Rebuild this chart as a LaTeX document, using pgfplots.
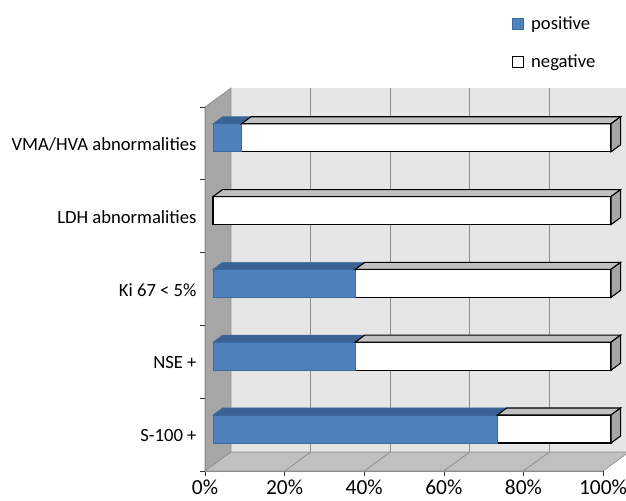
\documentclass[border=0pt]{standalone}
\usepackage{fontspec}
\setmainfont{Carlito}
\usepackage{pgfplots}
\pgfplotsset{compat=1.18}
\usepackage{pgfplotstable}

\definecolor{posblue}{HTML}{4F81BD}
\definecolor{postop}{HTML}{3A6294}
\definecolor{posedge}{HTML}{3B6A9E}
\definecolor{wallback}{HTML}{E6E6E6}
\definecolor{wallleft}{HTML}{A6A6A6}
\definecolor{floorc}{HTML}{C0C0C0}
\definecolor{gridc}{HTML}{8C8C8C}
\definecolor{negtop}{HTML}{C0C0C0}
\definecolor{negcap}{HTML}{A6A6A6}

\pgfplotsset{sqlegend/.style={legend image code/.code={\draw[##1] (0bp,-5.5bp) rectangle (11bp,5.5bp);}}}

\pgfplotstableread{
y pos neg
0.5 71.43 28.57
1.5 35.71 64.29
2.5 35.71 64.29
3.5 0 100
4.5 7.14 92.86
}\bardata

\newcommand{\chartfont}{\fontsize{18.7}{22}\selectfont}
\newcommand{\tickfont}{\fontsize{21.5}{24}\selectfont}

\begin{document}
\begin{tikzpicture}
\path[use as bounding box] (0bp,0bp) rectangle (626bp,501bp);
\clip (0bp,0bp) rectangle (626bp,501bp);

% ---- frame: walls, floor, grid, ticks, labels
\begin{axis}[
  at={(205bp,30bp)}, anchor=south west,
  scale only axis, width=398bp, height=364bp,
  xmin=0, xmax=100, ymin=0, ymax=5,
  clip=false, axis on top,
  axis x line*=bottom, axis y line*=left,
  axis line style={draw=gridc, line width=0.8pt},
  tick align=outside, major tick length=5bp,
  tick style={draw=black!80, line width=0.6pt},
  xtick={0,20,40,60,80,100},
  xticklabels={0\%,20\%,40\%,60\%,80\%,100\%},
  xticklabel style={font=\tickfont, inner sep=1bp, yshift=-3bp},
  ytick={0,1,2,3,4,5},
  yticklabels={S-100 +, NSE +, Ki 67 < 5\%, LDH abnormalities, VMA/HVA abnormalities, {}},
  yticklabel style={yshift=35.4bp, font=\chartfont},
  font=\chartfont,
]
% back wall
\addplot[fill=wallback, draw=none, forget plot] coordinates {(6.53,0.261) (106.53,0.261) (106.53,5.261) (6.53,5.261)} -- cycle;
% left wall
\addplot[fill=wallleft, draw=gridc, line width=0.6pt, forget plot] coordinates {(0,0) (6.53,0.261) (6.53,5.261) (0,5)} -- cycle;
% floor
\addplot[fill=floorc, draw=gridc, line width=0.6pt, forget plot] coordinates {(0,0) (100,0) (106.53,0.261) (6.53,0.261)} -- cycle;
% wall grid lines
\addplot[gridc, line width=0.8pt, forget plot] coordinates {(26.53,0.261) (26.53,5.261)};
\addplot[gridc, line width=0.8pt, forget plot] coordinates {(46.53,0.261) (46.53,5.261)};
\addplot[gridc, line width=0.8pt, forget plot] coordinates {(66.53,0.261) (66.53,5.261)};
\addplot[gridc, line width=0.8pt, forget plot] coordinates {(86.53,0.261) (86.53,5.261)};
% floor grid lines
\addplot[gridc, line width=0.8pt, forget plot] coordinates {(20,0) (26.53,0.261)};
\addplot[gridc, line width=0.8pt, forget plot] coordinates {(40,0) (46.53,0.261)};
\addplot[gridc, line width=0.8pt, forget plot] coordinates {(60,0) (66.53,0.261)};
\addplot[gridc, line width=0.8pt, forget plot] coordinates {(80,0) (86.53,0.261)};
\end{axis}

% ---- bars (front faces)
\begin{axis}[
  at={(213bp,35.6bp)}, anchor=south west,
  scale only axis, width=398bp, height=364bp,
  xmin=0, xmax=100, ymin=0, ymax=5,
  clip=false, hide axis,
  xbar stacked, bar width=28bp,
  font=\chartfont,
  legend style={at={(0.751,1.2387)}, anchor=north west, draw=none, fill=none,
    inner sep=0pt, row sep=20bp, column sep=5bp, font=\chartfont,
    nodes={inner sep=2bp}},
  legend cell align=left,
]
\addplot[fill=posblue, draw=posedge, line width=0.6pt, sqlegend]
  table[x=pos, y=y] {\bardata};
\addlegendentry{positive}
\addplot[fill=white, draw=black, line width=1.1pt, sqlegend]
  table[x=neg, y=y] {\bardata};
\addlegendentry{negative}
\end{axis}

% ---- bars (top faces and end caps)
\begin{axis}[
  at={(213bp,35.6bp)}, anchor=south west,
  scale only axis, width=398bp, height=364bp,
  xmin=0, xmax=100, ymin=0, ymax=5,
  clip=false, hide axis,
]
% S-100 +
\addplot[fill=postop, draw=posedge, line width=0.6pt] coordinates {(0,0.6923) (71.43,0.6923) (73.83,0.7885) (2.4,0.7885)} -- cycle;
\addplot[fill=negtop, draw=black, line width=1.1pt] coordinates {(71.43,0.6923) (100,0.6923) (102.4,0.7885) (73.83,0.7885)} -- cycle;
\addplot[fill=negcap, draw=black, line width=1.1pt] coordinates {(100,0.3077) (100,0.6923) (102.4,0.7885) (102.4,0.4039)} -- cycle;
% NSE +
\addplot[fill=postop, draw=posedge, line width=0.6pt] coordinates {(0,1.6923) (35.71,1.6923) (38.11,1.7885) (2.4,1.7885)} -- cycle;
\addplot[fill=negtop, draw=black, line width=1.1pt] coordinates {(35.71,1.6923) (100,1.6923) (102.4,1.7885) (38.11,1.7885)} -- cycle;
\addplot[fill=negcap, draw=black, line width=1.1pt] coordinates {(100,1.3077) (100,1.6923) (102.4,1.7885) (102.4,1.4039)} -- cycle;
% Ki 67 < 5%
\addplot[fill=postop, draw=posedge, line width=0.6pt] coordinates {(0,2.6923) (35.71,2.6923) (38.11,2.7885) (2.4,2.7885)} -- cycle;
\addplot[fill=negtop, draw=black, line width=1.1pt] coordinates {(35.71,2.6923) (100,2.6923) (102.4,2.7885) (38.11,2.7885)} -- cycle;
\addplot[fill=negcap, draw=black, line width=1.1pt] coordinates {(100,2.3077) (100,2.6923) (102.4,2.7885) (102.4,2.4039)} -- cycle;
% LDH abnormalities
\addplot[fill=negtop, draw=black, line width=1.1pt] coordinates {(0,3.6923) (100,3.6923) (102.4,3.7885) (2.4,3.7885)} -- cycle;
\addplot[fill=negcap, draw=black, line width=1.1pt] coordinates {(100,3.3077) (100,3.6923) (102.4,3.7885) (102.4,3.4039)} -- cycle;
% VMA/HVA abnormalities
\addplot[fill=postop, draw=posedge, line width=0.6pt] coordinates {(0,4.6923) (7.14,4.6923) (9.54,4.7885) (2.4,4.7885)} -- cycle;
\addplot[fill=negtop, draw=black, line width=1.1pt] coordinates {(7.14,4.6923) (100,4.6923) (102.4,4.7885) (9.54,4.7885)} -- cycle;
\addplot[fill=negcap, draw=black, line width=1.1pt] coordinates {(100,4.3077) (100,4.6923) (102.4,4.7885) (102.4,4.4039)} -- cycle;
\end{axis}
\end{tikzpicture}
\end{document}
